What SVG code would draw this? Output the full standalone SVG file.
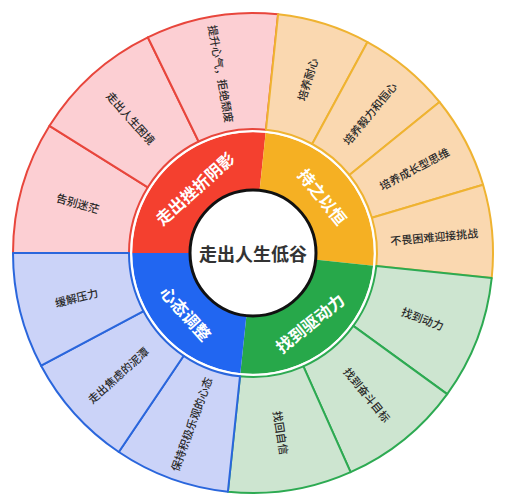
<svg xmlns="http://www.w3.org/2000/svg" width="506" height="500" viewBox="0 0 506 500">
<style>
text{font-family:"Noto Sans CJK SC","Liberation Sans",sans-serif;text-anchor:middle;dominant-baseline:central}
.leaf{font-size:11px;font-weight:500;fill:#2a2a2a}
.mid{font-size:16.5px;font-weight:bold;fill:#fff}
.ctr{font-size:18px;font-weight:bold;fill:#333}
.lr{fill:#fccfd3;stroke:#e8463c;stroke-width:2;stroke-linejoin:round}
.ly{fill:#fad8b0;stroke:#efb331;stroke-width:2;stroke-linejoin:round}
.lg{fill:#cde5d0;stroke:#2daa52;stroke-width:2;stroke-linejoin:round}
.lb{fill:#cbd3f8;stroke:#2a66dc;stroke-width:2;stroke-linejoin:round}
</style>
<rect width="506" height="500" fill="#fff"/>
<g id="ring">
<g id="n-red"><path d="M253 253 L132 253 A121 121 0 0 1 265.65 132.67 Z" fill="#f4402f"/><text class="mid" transform="translate(194.6 188.2) rotate(-42)">走出挫折阴影</text></g>
<g id="n-yellow"><path d="M253 253 L265.65 132.67 A121 121 0 0 1 373.33 265.65 Z" fill="#f5b023"/><text class="mid" transform="translate(322.9 196.4) rotate(51)">持之以恒</text></g>
<g id="n-green"><path d="M253 253 L373.33 265.65 A121 121 0 0 1 240.35 373.33 Z" fill="#27a84a"/><text class="mid" transform="translate(309.6 322.9) rotate(-39)">找到驱动力</text></g>
<g id="n-blue"><path d="M253 253 L240.35 373.33 A121 121 0 0 1 132 253 Z" fill="#2166f1"/><text class="mid" transform="translate(186.1 313.2) rotate(48)">心态调整</text></g>
<circle cx="253" cy="253" r="121.5" fill="none" stroke="#fff" stroke-width="1.5"/>
</g>
<g id="n-center"><circle cx="253" cy="253" r="63" fill="#fff" stroke="#111" stroke-width="3"/><text class="ctr" x="253" y="253">走出人生低谷</text></g>
<g id="leaves">
<g id="n-r1"><path class="lr" d="M129 253 L13 253 A240 240 0 0 1 49.5 125.8 L147.8 187.3 A124 124 0 0 0 129 253 Z"/><text class="leaf" transform="translate(78 202.8) rotate(16)">告别迷茫</text></g>
<g id="n-r2"><path class="lr" d="M147.8 187.3 L49.5 125.8 A240 240 0 0 1 147.8 37.3 L198.6 141.5 A124 124 0 0 0 147.8 187.3 Z"/><text class="leaf" transform="translate(131.2 117.8) rotate(48)">走出人生困境</text></g>
<g id="n-r3"><path class="lr" d="M198.6 141.5 L147.8 37.3 A240 240 0 0 1 278.1 14.3 L266 129.7 A124 124 0 0 0 198.6 141.5 Z"/><text class="leaf" transform="translate(221.4 73.8) rotate(80)">提升心气，拒绝颓废</text></g>
<g id="n-y1"><path class="ly" d="M266 129.7 L278.1 14.3 A240 240 0 0 1 367.5 42.1 L312.2 144 A124 124 0 0 0 266 129.7 Z"/><text class="leaf" transform="translate(307 79.2) rotate(-72.75)">培养耐心</text></g>
<g id="n-y2"><path class="ly" d="M312.2 144 L367.5 42.1 A240 240 0 0 1 439.5 102 L349.4 175 A124 124 0 0 0 312.2 144 Z"/><text class="leaf" transform="translate(369.4 113.1) rotate(-50.25)">培养毅力和恒心</text></g>
<g id="n-y3"><path class="ly" d="M349.4 175 L439.5 102 A240 240 0 0 1 483.1 184.8 L371.9 217.8 A124 124 0 0 0 349.4 175 Z"/><text class="leaf" transform="translate(414.1 168.3) rotate(-27.75)">培养成长型思维</text></g>
<g id="n-y4"><path class="ly" d="M371.9 217.8 L483.1 184.8 A240 240 0 0 1 491.7 278.1 L376.3 266 A124 124 0 0 0 371.9 217.8 Z"/><text class="leaf" transform="translate(434.2 236.3) rotate(-5.25)">不畏困难迎接挑战</text></g>
<g id="n-g1"><path class="lg" d="M376.3 266 L491.7 278.1 A240 240 0 0 1 447.2 394.1 L353.3 325.9 A124 124 0 0 0 376.3 266 Z"/><text class="leaf" transform="translate(422.9 318.2) rotate(21)">找到动力</text></g>
<g id="n-g2"><path class="lg" d="M353.3 325.9 L447.2 394.1 A240 240 0 0 1 350.6 472.2 L303.4 366.3 A124 124 0 0 0 353.3 325.9 Z"/><text class="leaf" transform="translate(367.5 394.4) rotate(51)">找到奋斗目标</text></g>
<g id="n-g3"><path class="lg" d="M303.4 366.3 L350.6 472.2 A240 240 0 0 1 227.9 491.7 L240 376.3 A124 124 0 0 0 303.4 366.3 Z"/><text class="leaf" transform="translate(281.5 432.8) rotate(81)">找回自信</text></g>
<g id="n-b1"><path class="lb" d="M240 376.3 L227.9 491.7 A240 240 0 0 1 118.8 452 L183.7 355.8 A124 124 0 0 0 240 376.3 Z"/><text class="leaf" transform="translate(190.8 424) rotate(-70)">保持积极乐观的心态</text></g>
<g id="n-b2"><path class="lb" d="M183.7 355.8 L118.8 452 A240 240 0 0 1 41.1 365.7 L143.5 311.2 A124 124 0 0 0 183.7 355.8 Z"/><text class="leaf" transform="translate(117.8 374.8) rotate(-42)">走出焦虑的泥潭</text></g>
<g id="n-b3"><path class="lb" d="M143.5 311.2 L41.1 365.7 A240 240 0 0 1 13 253 L129 253 A124 124 0 0 0 143.5 311.2 Z"/><text class="leaf" transform="translate(76.4 297) rotate(-14)">缓解压力</text></g>
</g>
</svg>
